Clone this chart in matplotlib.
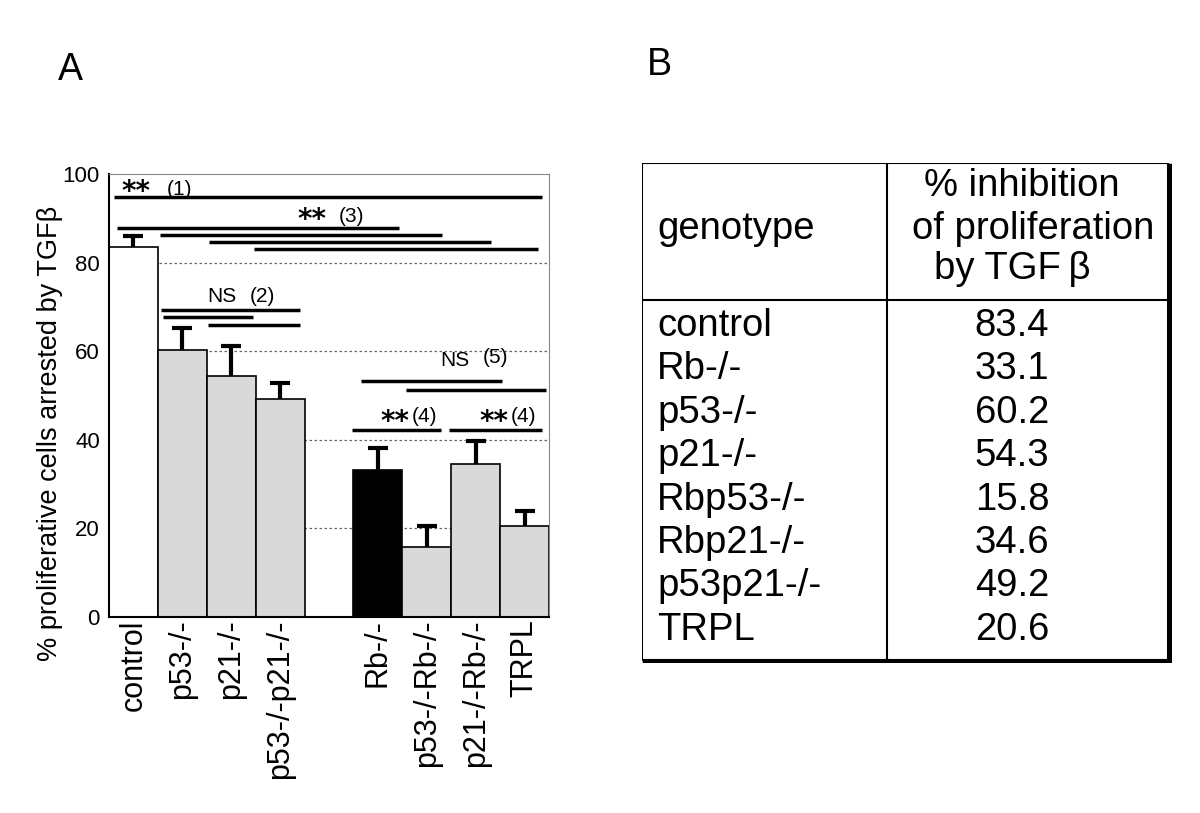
import numpy as np
import matplotlib
matplotlib.use("Agg")
import matplotlib.pyplot as plt
from matplotlib.patches import Rectangle

plt.rcParams['font.family'] = ['Liberation Sans', 'DejaVu Sans']

# Panel A data
genotypes = ['control', 'p53-/-', 'p21-/-', 'p53-/-p21-/-',
             'Rb-/-', 'p53-/-Rb-/-', 'p21-/-Rb-/-', 'TRPL']
arrest = [83.4, 60.2, 54.3, 49.2, 33.1, 15.8, 34.6, 20.6]
sem = [2.7, 5.1, 6.9, 3.7, 5.0, 4.8, 5.2, 3.2]
colors = ['white', '#d9d9d9', '#d9d9d9', '#d9d9d9',
          'black', '#d9d9d9', '#d9d9d9', '#d9d9d9']

# significance bars: (start, end, height)
sig_lines = [(-0.40, 8.36, 94.7),
             (-0.34, 5.44, 87.7), (0.54, 6.32, 86.3), (1.54, 7.32, 84.7), (2.46, 8.28, 83.0),
             (0.56, 3.40, 69.3), (0.60, 2.44, 67.7), (1.52, 3.40, 65.8),
             (4.66, 7.54, 53.3), (5.58, 8.44, 51.3),
             (4.48, 6.30, 42.2), (6.46, 8.36, 42.2)]
# labels: (text, x, y)
sig_stars = [(0.05, 95.9), (3.65, 89.7), (5.35, 43.9), (7.37, 43.9)]
sig_text = [('(1)', 0.95, 96.6), ('(3)', 4.45, 90.3), ('NS', 1.80, 72.3), ('(2)', 2.63, 72.3),
            ('NS', 6.58, 57.9), ('(5)', 7.40, 58.6), ('(4)', 5.95, 45.3), ('(4)', 7.97, 45.3)]

# Panel B data
table_genotypes = ['control', 'Rb-/-', 'p53-/-', 'p21-/-', 'Rbp53-/-',
                   'Rbp21-/-', 'p53p21-/-', 'TRPL']
table_values = ['83.4', '33.1', '60.2', '54.3', '15.8', '34.6', '49.2', '20.6']

fig = plt.figure(figsize=(12, 8.13), dpi=100)

# ---- Panel A ----
ax = fig.add_axes([109/1200, 1-616.7/813, 440/1200, 442.7/813])
x = np.r_[np.arange(4), np.arange(4) + 5]

for yg in [20, 40, 60, 80]:
    ax.axhline(yg, color='#666666', lw=0.9, ls=(0, (2, 2)), zorder=0)

ax.bar(x, arrest, width=1.0, color=colors, edgecolor='black', linewidth=1.2, zorder=2)
_, caps, _ = ax.errorbar(x, arrest, yerr=[np.zeros(len(sem)), sem], fmt='none', ecolor='black',
                         elinewidth=3, capsize=7, capthick=3, zorder=3)
caps[0].set_visible(False)  # only the upper cap

for x0, x1, yv in sig_lines:
    ax.plot([x0, x1], [yv, yv], color='black', lw=2.5, solid_capstyle='butt', zorder=4)
for xs, ys in sig_stars:
    ax.text(xs, ys, '**', fontsize=20, fontweight='bold', ha='center', va='center',
            family=['DejaVu Sans'])
for t, xt, yt in sig_text:
    ax.text(xt, yt, t, fontsize=15, ha='center', va='center')

ax.set_xlim(-0.5, 8.5)
ax.set_ylim(0, 100)
ax.set_yticks(range(0, 101, 20))
ax.tick_params(axis='y', length=0, pad=6.5, labelsize=16)
ax.set_xticks(x)
ax.set_xticklabels(genotypes, rotation=90, fontsize=22)
ax.tick_params(axis='x', length=0, pad=2)
for s in ['top', 'right']:
    ax.spines[s].set_color('#888888')
    ax.spines[s].set_linewidth(0.8)
for s in ['left', 'bottom']:
    ax.spines[s].set_linewidth(1.5)
ax.set_ylabel('% proliferative cells arrested by TGF\u03b2', fontsize=19.5)
ax.yaxis.set_label_coords(-0.105, 0.415)

fig.text(70/1200, 1-70/813, 'A', fontsize=27, ha='center', va='center')
fig.text(659/1200, 1-65/813, 'B', fontsize=27, ha='center', va='center')

# ---- Panel B (table) ----
tb = fig.add_axes([642/1200, 1-663/813, 530/1200, 500/813])
tb.set_xlim(0, 530)
tb.set_ylim(500, 0)
tb.axis('off')
W, H = 526, 497
tb.add_patch(Rectangle((0, 0), W, H, fill=False, edgecolor='black', lw=1.5))
tb.plot([W + 1.5, W + 1.5], [2, H + 1.5], color='black', lw=2.5)
tb.plot([2, W + 1.5], [H + 1.5, H + 1.5], color='black', lw=2.5)
tb.plot([245, 245], [0, H], color='black', lw=1.5)
tb.plot([0, W], [137, 137], color='black', lw=1.5)

tb.text(15, 66, 'genotype', fontsize=27.5, ha='left', va='center')
tb.text(380, 23, '% inhibition', fontsize=27.5, ha='center', va='center')
tb.text(391, 66, 'of proliferation', fontsize=27.5, ha='center', va='center')
tb.text(370, 106, 'by TGF\u2009\u03b2', fontsize=27.5, ha='center', va='center')

row0, step = 163, 43.4
for i, (g, v) in enumerate(zip(table_genotypes, table_values)):
    yy = row0 + i * step
    tb.text(15, yy, g, fontsize=27.5, ha='left', va='center')
    tb.text(370, yy, v, fontsize=27.5, ha='center', va='center')

fig.savefig('out.png', dpi=100)
